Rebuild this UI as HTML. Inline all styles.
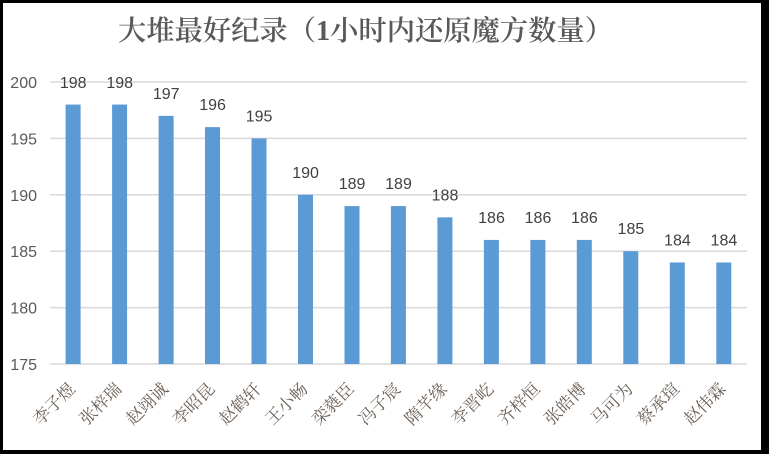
<!DOCTYPE html>
<html>
<head>
<meta charset="utf-8">
<style>
html,body{margin:0;padding:0;background:#000;}
svg{display:block;}
</style>
</head>
<body>
<svg width="769" height="454" viewBox="0 0 769 454" xmlns="http://www.w3.org/2000/svg">
<rect x="0" y="0" width="769" height="454" fill="#000"/>
<rect x="3" y="3" width="758" height="447" fill="#fff"/>
<text x="118" y="40" font-family="'Noto Serif CJK SC','Liberation Serif',serif" font-size="28" font-weight="600" fill="#595959" textLength="495" lengthAdjust="spacingAndGlyphs">大堆最好纪录（<tspan font-family="'Liberation Serif',serif" font-weight="bold">1</tspan>小时内还原魔方数量）</text>
<g stroke="#d9d9d9" stroke-width="1.5">
<line x1="50" y1="82" x2="747" y2="82"/>
<line x1="50" y1="138.4" x2="747" y2="138.4"/>
<line x1="50" y1="194.8" x2="747" y2="194.8"/>
<line x1="50" y1="251.2" x2="747" y2="251.2"/>
<line x1="50" y1="307.6" x2="747" y2="307.6"/>
<line x1="50" y1="364" x2="747" y2="364"/>
</g>
<g font-family="'Liberation Sans',sans-serif" font-size="16" fill="#595959" text-anchor="end">
<text x="37" y="88">200</text>
<text x="37" y="144.4">195</text>
<text x="37" y="200.8">190</text>
<text x="37" y="257.2">185</text>
<text x="37" y="313.6">180</text>
<text x="37" y="370">175</text>
</g>
<g fill="#5B9BD5">
<rect x="65.6" y="104.56" width="15" height="259.44"/>
<rect x="112.1" y="104.56" width="15" height="259.44"/>
<rect x="158.6" y="115.84" width="15" height="248.16"/>
<rect x="205.0" y="127.12" width="15" height="236.88"/>
<rect x="251.5" y="138.4" width="15" height="225.6"/>
<rect x="298.0" y="194.8" width="15" height="169.2"/>
<rect x="344.5" y="206.08" width="15" height="157.92"/>
<rect x="390.9" y="206.08" width="15" height="157.92"/>
<rect x="437.4" y="217.36" width="15" height="146.64"/>
<rect x="483.9" y="239.92" width="15" height="124.08"/>
<rect x="530.4" y="239.92" width="15" height="124.08"/>
<rect x="576.8" y="239.92" width="15" height="124.08"/>
<rect x="623.3" y="251.2" width="15" height="112.8"/>
<rect x="669.8" y="262.48" width="15" height="101.52"/>
<rect x="716.3" y="262.48" width="15" height="101.52"/>
</g>
<g font-family="'Liberation Sans',sans-serif" font-size="16" fill="#404040" text-anchor="middle">
<text x="73.2" y="88">198</text>
<text x="119.7" y="88">198</text>
<text x="166.2" y="99">197</text>
<text x="212.6" y="110">196</text>
<text x="259.1" y="121.5">195</text>
<text x="305.6" y="178">190</text>
<text x="352.1" y="189">189</text>
<text x="398.5" y="189">189</text>
<text x="445.0" y="200.5">188</text>
<text x="491.5" y="223">186</text>
<text x="538.0" y="223">186</text>
<text x="584.4" y="223">186</text>
<text x="630.9" y="234">185</text>
<text x="677.4" y="245.5">184</text>
<text x="723.9" y="245.5">184</text>
</g>
<g font-family="'Liberation Serif','Noto Serif CJK SC',serif" font-size="17" fill="#6b5f55" text-anchor="end">
<text transform="translate(76.2,390) rotate(-45)">李子煜</text>
<text transform="translate(122.7,390) rotate(-45)">张梓瑞</text>
<text transform="translate(169.2,390) rotate(-45)">赵翊诚</text>
<text transform="translate(215.6,390) rotate(-45)">李昭昆</text>
<text transform="translate(262.1,390) rotate(-45)">赵鹤轩</text>
<text transform="translate(308.6,390) rotate(-45)">王小畅</text>
<text transform="translate(355.1,390) rotate(-45)">栾蕤臣</text>
<text transform="translate(401.5,390) rotate(-45)">冯子宸</text>
<text transform="translate(448.0,390) rotate(-45)">隋芊缘</text>
<text transform="translate(494.5,390) rotate(-45)">李晋屹</text>
<text transform="translate(541.0,390) rotate(-45)">齐梓恒</text>
<text transform="translate(587.4,390) rotate(-45)">张皓博</text>
<text transform="translate(633.9,390) rotate(-45)">马可为</text>
<text transform="translate(680.4,390) rotate(-45)">蔡承瑄</text>
<text transform="translate(726.9,390) rotate(-45)">赵伟霖</text>
</g>
</svg>
</body>
</html>
